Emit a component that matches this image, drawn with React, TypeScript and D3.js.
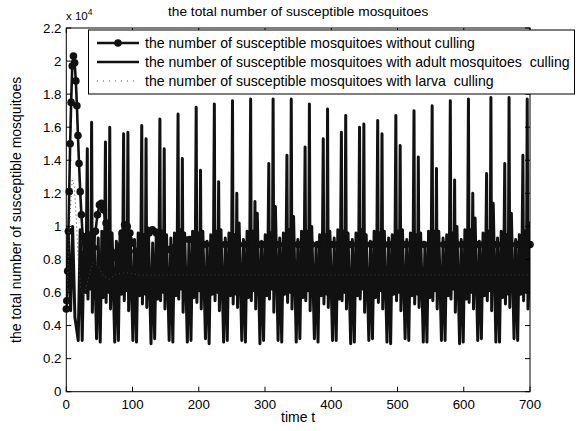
import React from 'react';
import * as d3 from 'd3';

const xTicks = [0, 100, 200, 300, 400, 500, 600, 700];
const yTicks = [0, 0.2, 0.4, 0.6, 0.8, 1, 1.2, 1.4, 1.6, 1.8, 2, 2.2];
const yTickLabels = ['0', '0.2', '0.4', '0.6', '0.8', '1', '1.2', '1.4', '1.6', '1.8', '2', '2.2'];

// without culling (units of 1e4)
const noCullT = [0, 0.8, 2, 3.2, 4.4, 5.8, 7.3, 9, 10.8, 12.6, 14.4, 16, 17.6, 19.2, 21, 22.8, 24.8, 27, 29.5, 32, 35, 38, 41, 44, 47, 50, 53, 56, 60, 64, 68, 72, 76, 80, 84, 88, 92, 96, 100, 105, 110, 115, 120, 125, 130, 136, 142, 148, 155, 162, 170, 178, 186, 194, 202, 210, 220, 230, 240, 250, 260, 270, 280, 290, 300, 310, 320, 330, 340, 350, 360, 370, 380, 390, 400, 410, 420, 430, 440, 450, 460, 470, 480, 490, 500, 510, 520, 530, 540, 550, 560, 570, 580, 590, 600, 610, 620, 630, 640, 650, 660, 670, 680, 690, 700];
const noCullV = [0.50, 0.55, 0.73, 0.97, 1.21, 1.50, 1.75, 1.97, 2.03, 1.99, 1.88, 1.73, 1.55, 1.38, 1.21, 1.07, 0.94, 0.83, 0.75, 0.71, 0.72, 0.78, 0.87, 0.97, 1.07, 1.13, 1.14, 1.10, 1.02, 0.93, 0.85, 0.81, 0.82, 0.88, 0.96, 1.01, 1.00, 0.96, 0.90, 0.85, 0.84, 0.86, 0.91, 0.96, 0.98, 0.96, 0.92, 0.88, 0.86, 0.87, 0.90, 0.92, 0.92, 0.91, 0.90, 0.89, 0.89, 0.89, 0.89, 0.89, 0.89, 0.89, 0.89, 0.89, 0.89, 0.89, 0.89, 0.89, 0.89, 0.89, 0.89, 0.89, 0.89, 0.89, 0.89, 0.89, 0.89, 0.89, 0.89, 0.89, 0.89, 0.89, 0.89, 0.89, 0.89, 0.89, 0.89, 0.89, 0.89, 0.89, 0.89, 0.89, 0.89, 0.89, 0.89, 0.89, 0.89, 0.89, 0.89, 0.89, 0.89, 0.89, 0.89, 0.89, 0.89];

// larva culling
const larvaT = [0, 3, 6, 9, 12, 15, 18, 22, 27, 33, 40, 48, 56, 65, 75, 90, 110, 200, 400, 700];
const larvaV = [0.50, 0.80, 1.10, 1.28, 1.25, 1.05, 0.80, 0.62, 0.58, 0.68, 0.78, 0.76, 0.70, 0.68, 0.71, 0.72, 0.705, 0.706, 0.706, 0.706];

// adult culling: lead-in, then one row of read values per culling cycle
const adultLeadT = [0, 3, 6.5, 9.5, 13, 18, 21, 24, 27, 29.5];
const adultLeadV = [0.5, 0.95, 0.49, 1.0, 0.45, 0.31, 0.98, 0.31, 0.95, 0.6];
const adultCycleStart = [31.7, 59.1, 86.5, 113.9, 141.3, 168.7, 196.1, 223.5, 250.9, 278.3, 305.7, 333.1, 360.5, 387.9, 415.3, 442.7, 470.1, 497.5, 524.9, 552.3, 579.7, 607.1, 634.5, 661.9, 689.3];
const adultCyclePhase = [0, 1.0, 3.2, 5.3, 6.5, 7.6, 10, 14, 16.5, 19.5, 22, 24.2, 26];
const adultCycleValues = [
  [1.47, 0.56, 0.96, 0.62, 1.63, 0.48, 0.98, 0.32, 0.93, 0.30, 0.97, 0.57, 0.82],
  [1.51, 0.54, 0.98, 0.60, 1.60, 0.50, 0.96, 0.30, 0.91, 0.31, 0.95, 0.59, 0.79],
  [1.56, 0.55, 0.97, 0.61, 1.57, 0.49, 0.97, 0.31, 0.92, 0.30, 0.96, 0.58, 0.81],
  [1.61, 0.53, 0.95, 0.59, 1.53, 0.51, 0.99, 0.29, 0.90, 0.32, 0.98, 0.56, 0.80],
  [1.65, 0.55, 0.97, 0.60, 1.47, 0.50, 0.95, 0.31, 0.93, 0.30, 0.96, 0.58, 0.78],
  [1.68, 0.56, 0.98, 0.62, 1.41, 0.48, 0.96, 0.30, 0.92, 0.31, 0.97, 0.57, 0.81],
  [1.72, 0.54, 0.96, 0.61, 1.34, 0.50, 0.97, 0.32, 0.91, 0.29, 0.95, 0.59, 0.80],
  [1.74, 0.55, 0.97, 0.60, 1.27, 0.49, 0.98, 0.30, 0.93, 0.31, 0.96, 0.58, 0.79],
  [1.76, 0.53, 0.95, 0.59, 1.20, 0.51, 1.02, 0.31, 0.92, 0.30, 0.97, 0.57, 0.82],
  [1.77, 0.55, 0.97, 0.61, 1.15, 0.50, 1.08, 0.29, 0.91, 0.31, 0.95, 0.58, 0.80],
  [1.38, 0.56, 0.96, 0.62, 1.77, 0.48, 1.12, 0.31, 0.93, 0.30, 0.96, 0.59, 0.81],
  [1.43, 0.54, 0.98, 0.60, 1.77, 0.50, 1.06, 0.30, 0.92, 0.32, 0.97, 0.57, 0.79],
  [1.48, 0.55, 0.97, 0.61, 1.74, 0.49, 1.00, 0.32, 0.90, 0.30, 0.95, 0.58, 0.80],
  [1.53, 0.53, 0.95, 0.59, 1.71, 0.51, 0.97, 0.31, 0.93, 0.31, 0.98, 0.56, 0.82],
  [1.57, 0.55, 0.97, 0.60, 1.67, 0.50, 0.96, 0.29, 0.92, 0.30, 0.96, 0.58, 0.78],
  [1.60, 0.56, 0.98, 0.62, 1.62, 0.48, 0.95, 0.31, 0.91, 0.32, 0.97, 0.57, 0.81],
  [1.64, 0.54, 0.96, 0.61, 1.56, 0.50, 0.97, 0.30, 0.93, 0.29, 0.95, 0.59, 0.80],
  [1.67, 0.55, 0.97, 0.60, 1.49, 0.49, 0.98, 0.32, 0.92, 0.31, 0.96, 0.58, 0.79],
  [1.70, 0.53, 0.95, 0.59, 1.42, 0.51, 0.96, 0.30, 0.90, 0.30, 0.97, 0.57, 0.82],
  [1.73, 0.55, 0.97, 0.61, 1.35, 0.50, 0.97, 0.31, 0.93, 0.31, 0.95, 0.58, 0.80],
  [1.76, 0.56, 0.96, 0.62, 1.28, 0.48, 1.00, 0.29, 0.92, 0.30, 0.98, 0.56, 0.81],
  [1.77, 0.54, 0.98, 0.60, 1.20, 0.50, 1.05, 0.31, 0.91, 0.32, 0.96, 0.58, 0.79],
  [1.32, 0.55, 0.97, 0.61, 1.78, 0.49, 1.14, 0.30, 0.93, 0.30, 0.97, 0.57, 0.80],
  [1.38, 0.53, 0.95, 0.59, 1.78, 0.51, 1.08, 0.32, 0.92, 0.31, 0.95, 0.59, 0.82],
  [1.43, 0.55, 0.97, 0.60, 1.77, 0.50, 1.02, 0.31, 0.90, 0.30, 0.96, 0.58, 0.80],
];

const titleText = 'the total number of susceptible mosquitoes';
const xLabelText = 'time t';
const legendLabels = [
  'the number of susceptible mosquitoes without culling',
  'the number of susceptible mosquitoes with adult mosquitoes  culling',
  'the number of susceptible mosquitoes with larva  culling',
];

const W = 579;
const H = 431;
const L = 66.3, R = 530, T = 28, B = 391.7;
const FONT = '"Liberation Sans", Arial, Helvetica, sans-serif';

export default function App() {
  const x = d3.scaleLinear().domain([0, 700]).range([L, R]);
  const y = d3.scaleLinear().domain([0, 2.2]).range([B, T]);
  const line = d3.line<[number, number]>().x(d => x(d[0])).y(d => y(d[1]));

  const noCull: [number, number][] = noCullT.map((t, i) => [t, noCullV[i]]);
  const larva: [number, number][] = larvaT.map((t, i) => [t, larvaV[i]]);
  const adult: [number, number][] = adultLeadT.map((t, i) => [t, adultLeadV[i]] as [number, number]);
  adultCycleStart.forEach((s, k) => {
    adultCyclePhase.forEach((p, j) => {
      adult.push([s + p, adultCycleValues[k][j]]);
    });
  });

  const tickLen = 5;
  const legX = 88.5, legY = 30, legW = 486, legH = 64;
  const rowY = [43, 62, 81];

  return (
    <svg width={W} height={H} style={{ position: 'absolute', left: 0, top: 0, background: '#fff' }} fontFamily={FONT}>
      <defs>
        <clipPath id="plotClip">
          <rect x={L} y={T} width={R - L} height={B - T} />
        </clipPath>
      </defs>
      <rect x={0} y={0} width={W} height={H} fill="#fff" />
      <g clipPath="url(#plotClip)">
        <path d={line(adult) || ''} fill="none" stroke="#111" strokeWidth={3} strokeLinejoin="round" />
        <path d={line(noCull) || ''} fill="none" stroke="#111" strokeWidth={2.6} strokeLinejoin="round" />
      </g>
      <g>
        {noCull.map((d, i) => (
          <circle key={i} cx={x(d[0])} cy={y(d[1])} r={3.8} fill="#111" />
        ))}
      </g>
      <g clipPath="url(#plotClip)">
        <path d={line(larva) || ''} fill="none" stroke="#444" strokeWidth={1} strokeDasharray="1,3" />
      </g>
      <rect x={L} y={T} width={R - L} height={B - T} fill="none" stroke="#000" strokeWidth={1} />
      {xTicks.map(t => (
        <g key={'x' + t}>
          <line x1={x(t)} x2={x(t)} y1={B} y2={B - tickLen} stroke="#000" />
          <line x1={x(t)} x2={x(t)} y1={T} y2={T + tickLen} stroke="#000" />
          <text x={x(t)} y={408.5} fontSize={13.3} textAnchor="middle" fill="#000">{t}</text>
        </g>
      ))}
      {yTicks.map((t, i) => (
        <g key={'y' + t}>
          <line x1={L} x2={L + tickLen} y1={y(t)} y2={y(t)} stroke="#000" />
          <line x1={R} x2={R - tickLen} y1={y(t)} y2={y(t)} stroke="#000" />
          <text x={61.5} y={y(t) + 4.7} fontSize={13.3} textAnchor="end" fill="#000">{yTickLabels[i]}</text>
        </g>
      ))}
      <text x={66} y={20} fontSize={11.5} fill="#000">x 10<tspan fontSize={8.5} dy={-5.5}>4</tspan></text>
      <text x={(L + R) / 2} y={16} fontSize={13.7} textAnchor="middle" fill="#000">{titleText}</text>
      <text x={(L + R) / 2} y={422} fontSize={14} textAnchor="middle" fill="#000">{xLabelText}</text>
      <text transform={`translate(21,${(T + B) / 2}) rotate(-90)`} fontSize={14} textAnchor="middle" fill="#000">{titleText}</text>
      <rect x={legX} y={legY} width={legW} height={legH} fill="#fff" stroke="#000" strokeWidth={1} />
      <line x1={97} x2={139} y1={rowY[0]} y2={rowY[0]} stroke="#111" strokeWidth={2.6} />
      <circle cx={118} cy={rowY[0]} r={3.8} fill="#111" />
      <line x1={97} x2={139} y1={rowY[1]} y2={rowY[1]} stroke="#111" strokeWidth={2.6} />
      <line x1={97} x2={139} y1={rowY[2]} y2={rowY[2]} stroke="#444" strokeWidth={1} strokeDasharray="1,5" />
      {legendLabels.map((s, i) => (
        <text key={i} x={145} y={rowY[i] + 4.8} fontSize={14.1} fill="#000" style={{ whiteSpace: 'pre' }}>{s}</text>
      ))}
    </svg>
  );
}
